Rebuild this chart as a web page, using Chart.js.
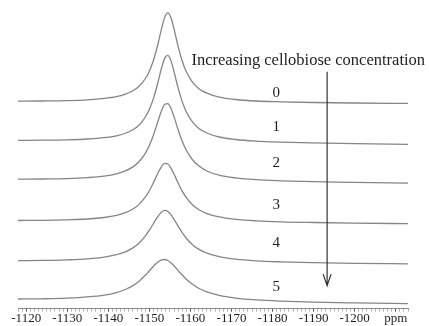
<!DOCTYPE html>
<html>
<head>
<meta charset="utf-8">
<script src="https://cdn.jsdelivr.net/npm/chart.js@4.4.0/dist/chart.umd.min.js"></script>
<style>
    html, body { margin: 0; padding: 0; background: #fff; }
    #wrap { width: 429px; height: 326px; }
</style>
</head>
<body>
<div id="wrap"><canvas id="myChart" width="429" height="326"></canvas></div>
<script>
// chemical shift (ppm) sample positions, shared by all traces
var ppm = [-1118, -1124, -1130, -1135, -1139, -1142, -1144, -1146, -1147.5, -1149, -1150, -1151, -1152, -1153,
    -1153.75, -1154.5, -1155.25, -1156, -1157, -1158, -1159, -1160.5, -1162, -1164, -1167, -1171, -1176, -1182, -1190, -1200, -1213];

// stacked spectra (offset already included)
var trace0 = [207.0, 207.2, 207.6, 208.4, 209.8, 211.6, 213.8, 217.4, 221.9, 229.4, 237.0, 247.9, 262.6, 279.9,
    290.9, 295.1, 290.3, 279.1, 261.8, 247.1, 236.4, 226.1, 219.8, 215.0, 211.1, 208.7, 207.2, 206.4, 205.7, 205.2, 204.8];
var trace1 = [168.0, 168.1, 168.5, 169.3, 170.6, 172.5, 174.8, 178.5, 183.3, 191.0, 198.9, 209.8, 224.4, 240.6,
    250.0, 252.8, 247.5, 236.6, 220.3, 206.6, 196.3, 186.4, 180.1, 175.3, 171.3, 168.8, 167.2, 166.2, 165.4, 164.7, 164.0];
var trace2 = [129.2, 129.4, 129.8, 130.8, 132.3, 134.6, 137.2, 141.5, 146.8, 155.0, 162.9, 173.3, 185.7, 197.9,
    203.9, 204.6, 200.0, 191.6, 178.6, 167.1, 158.1, 148.6, 142.5, 137.4, 133.2, 130.5, 128.7, 127.6, 126.7, 126.0, 125.3];
var trace3 = [88.0, 88.2, 88.7, 89.5, 91.0, 93.1, 95.5, 99.4, 104.1, 111.2, 117.7, 125.8, 134.6, 142.1,
    145.0, 144.4, 140.3, 134.3, 125.4, 117.3, 110.7, 103.7, 99.0, 94.9, 91.5, 89.2, 87.7, 86.7, 86.0, 85.4, 84.8];
var trace4 = [47.9, 48.2, 48.8, 49.8, 51.5, 53.9, 56.5, 60.7, 65.5, 72.4, 78.3, 85.0, 91.7, 96.5,
    98.0, 97.0, 93.8, 89.2, 82.3, 75.8, 70.3, 63.9, 59.4, 55.4, 51.9, 49.4, 47.8, 46.8, 46.0, 45.3, 44.8];
var trace5 = [9.7, 9.9, 10.5, 11.7, 13.5, 16.1, 18.9, 23.0, 27.5, 33.3, 37.8, 42.3, 46.3, 48.7,
    49.1, 48.1, 45.8, 42.8, 38.2, 33.6, 29.4, 24.3, 20.4, 16.7, 13.2, 10.6, 8.8, 7.6, 6.6, 5.8, 5.0];

var seriesLabels = ['0', '1', '2', '3', '4', '5'];
var majorTicks = [-1120, -1130, -1140, -1150, -1160, -1170, -1180, -1190, -1200, -1210];
var tickLabels = ['-1120', '-1130', '-1140', '-1150', '-1160', '-1170', '-1180', '-1190', '-1200', 'ppm'];
var titleText = 'Increasing cellobiose concentration';

var traces = [trace0, trace1, trace2, trace3, trace4, trace5];
var serif = '"Liberation Serif", "DejaVu Serif", serif';

// label / arrow spots in data units (ppm, stacked height)
var labelAt = [211.5, 177.3, 141.3, 99, 62, 18];

var annotate = {
    id: 'annotate',
    afterDatasetsDraw: function (chart) {
        var ctx = chart.ctx;
        var sx = chart.scales.x;
        var sy = chart.scales.y;
        ctx.save();
        ctx.fillStyle = '#1e1e1e';
        ctx.textAlign = 'center';
        ctx.textBaseline = 'alphabetic';

        ctx.font = '16.5px ' + serif;
        ctx.fillText(titleText, sx.getPixelForValue(-1188.7), sy.getPixelForValue(243));

        ctx.font = '15px ' + serif;
        for (var i = 0; i < seriesLabels.length; i++) {
            ctx.fillText(seriesLabels[i], sx.getPixelForValue(-1180.9), sy.getPixelForValue(labelAt[i]));
        }

        // arrow
        var ax = sx.getPixelForValue(-1193.3);
        var top = sy.getPixelForValue(236.3);
        var tip = sy.getPixelForValue(23);
        ctx.strokeStyle = '#333';
        ctx.lineWidth = 1.2;
        ctx.beginPath();
        ctx.moveTo(ax, top);
        ctx.lineTo(ax, tip);
        ctx.moveTo(ax - 4, tip - 11.5);
        ctx.lineTo(ax, tip);
        ctx.lineTo(ax + 4, tip - 11.5);
        ctx.stroke();
        ctx.restore();
    }
};

var ctx = document.getElementById('myChart').getContext('2d');
var myChart = new Chart(ctx, {
    type: 'line',
    data: {
        datasets: traces.map(function (t, i) {
            return {
                label: seriesLabels[i],
                data: ppm.map(function (p, j) { return { x: p, y: t[j] }; }),
                borderColor: '#858585',
                borderWidth: 1.3,
                pointRadius: 0,
                fill: false,
                cubicInterpolationMode: 'monotone'
            };
        })
    },
    options: {
        responsive: false,
        animation: false,
        layout: { padding: { left: 18, right: 21, top: 8, bottom: 0 } },
        plugins: {
            legend: { display: false },
            tooltip: { enabled: false }
        },
        scales: {
            x: {
                type: 'linear',
                reverse: true,
                min: -1213,
                max: -1118,
                border: { display: true, color: '#8c8c8c', width: 1 },
                grid: {
                    drawOnChartArea: false,
                    drawTicks: true,
                    tickLength: 3,
                    color: function (c) {
                        return c.tick && c.tick.value % 10 === 0 ? '#555' : '#b5b5b5';
                    }
                },
                ticks: {
                    stepSize: 1,
                    autoSkip: false,
                    maxRotation: 0,
                    minRotation: 0,
                    padding: 0,
                    color: '#1e1e1e',
                    font: { family: serif, size: 13, lineHeight: 1.1 },
                    callback: function (v) {
                        var i = majorTicks.indexOf(v);
                        return i < 0 ? '' : tickLabels[i];
                    }
                }
            },
            y: {
                display: false,
                min: 0,
                max: 300
            }
        }
    },
    plugins: [annotate]
});
</script>
</body>
</html>
